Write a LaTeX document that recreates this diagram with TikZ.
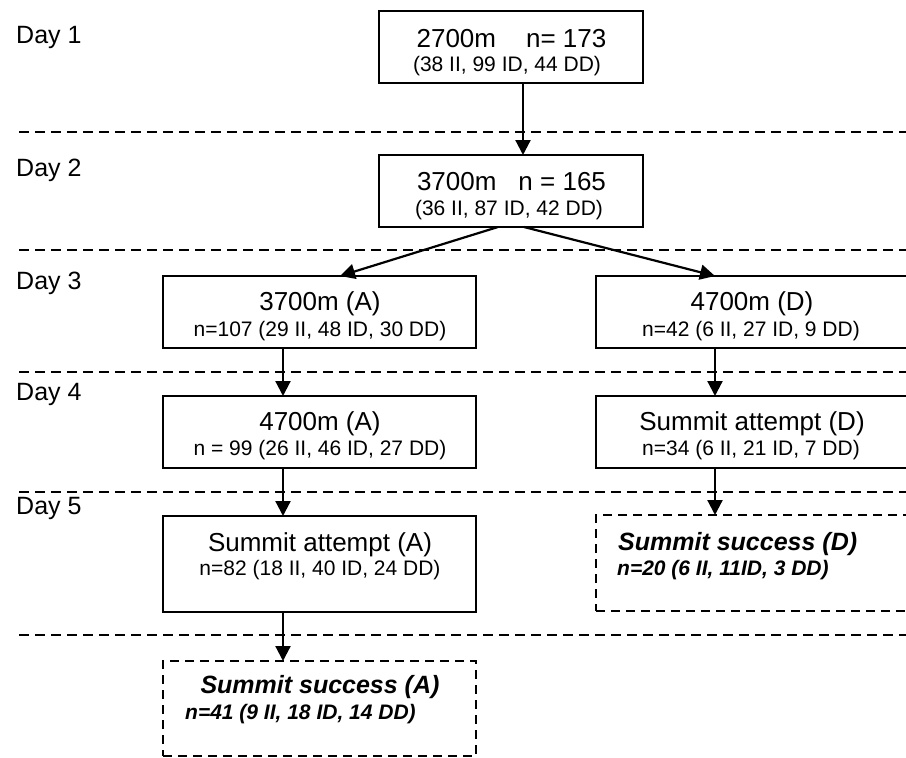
\documentclass[tikz,border=0pt]{standalone}
\usepackage{fontspec}
\setmainfont{Liberation Sans}
\usetikzlibrary{arrows.meta}
\begin{document}
\begin{tikzpicture}[x=1pt,y=-1pt,
  box/.style={draw, line width=1.9pt, inner sep=0pt, outer sep=0pt},
  dbox/.style={box, line width=1.7pt, dash pattern=on 9pt off 6pt},
  sepline/.style={line width=1.7pt, dash pattern=on 10pt off 6pt},
  arr/.style={line width=2.2pt, -{Triangle[length=15pt,width=15pt]}},
  big/.style={font=\fontsize{26}{30}\selectfont, inner sep=0pt, anchor=base},
  small/.style={font=\fontsize{21}{25}\selectfont, inner sep=0pt, anchor=base},
  bigbi/.style={font=\fontsize{25}{30}\selectfont\bfseries\itshape, inner sep=0pt},
  smallbi/.style={font=\fontsize{21}{25}\selectfont\bfseries\itshape, inner sep=0pt},
  day/.style={font=\fontsize{25}{30}\selectfont, inner sep=0pt, anchor=base west}]
\useasboundingbox (0,0) rectangle (906,758);
\clip (0,0) rectangle (906,758);
\fill[white] (0,0) rectangle (906,758);

% separator lines
\coordinate (s1l) at (19,132); \coordinate (s1r) at (906,132);
\coordinate (s2l) at (19,250); \coordinate (s2r) at (906,250);
\coordinate (s3l) at (19,372); \coordinate (s3r) at (906,372);
\coordinate (s4l) at (19,492); \coordinate (s4r) at (906,492);
\coordinate (s5l) at (19,635); \coordinate (s5r) at (906,635);
\draw[sepline] (s1l) -- (s1r);
\draw[sepline] (s2l) -- (s2r);
\draw[sepline] (s3l) -- (s3r);
\draw[sepline] (s4l) -- (s4r);
\draw[sepline] (s5l) -- (s5r);

% day labels
\node[day] (day1) at (16,43) {Day 1};
\node[day] (day2) at (16,176) {Day 2};
\node[day] (day3) at (16,289) {Day 3};
\node[day] (day4) at (16,400) {Day 4};
\node[day] (day5) at (16,514) {Day 5};

% boxes
\node[box, minimum width=264pt, minimum height=72pt] (d1) at (511,47) {};
\node[box, minimum width=264pt, minimum height=72pt] (d2) at (511,191) {};
\node[box, minimum width=313pt, minimum height=72pt] (a3) at (319.5,312) {};
\node[box, minimum width=320pt, minimum height=72pt] (d3) at (756,312) {};
\node[box, minimum width=313pt, minimum height=72pt] (a4) at (319.5,432) {};
\node[box, minimum width=320pt, minimum height=72pt] (d4) at (756,432) {};
\node[box, minimum width=313pt, minimum height=96pt] (a5) at (319.5,564) {};
\node[dbox, minimum width=320pt, minimum height=96pt] (d5) at (756,563) {};
\node[dbox, minimum width=313pt, minimum height=95pt] (a6) at (319.5,708.5) {};

% texts
\node[big] (t1a) at (511.5,47) {2700m\hspace{30pt}n= 173};
\node[small] (t1b) at (507,71) {(38 II, 99 ID, 44 DD)};
\node[big] (t2a) at (511.5,190) {3700m\hspace{22pt}n = 165};
\node[small] (t2b) at (509,215) {(36 II, 87 ID, 42 DD)};
\node[big] (t3a) at (320,310) {3700m (A)};
\node[small] (t3b) at (320,336) {n=107 (29 II, 48 ID, 30 DD)};
\node[big] (t3c) at (752,310) {4700m (D)};
\node[small] (t3d) at (751,336) {n=42 (6 II, 27 ID, 9 DD)};
\node[big] (t4a) at (320,430) {4700m (A)};
\node[small] (t4b) at (320,455) {n = 99 (26 II, 46 ID, 27 DD)};
\node[big] (t4c) at (752,430) {Summit attempt (D)};
\node[small] (t4d) at (751,455) {n=34 (6 II, 21 ID, 7 DD)};
\node[big] (t5a) at (320,551) {Summit attempt (A)};
\node[small] (t5b) at (320,575) {n=82 (18 II, 40 ID, 24 DD)};
\node[bigbi, anchor=base west] (t5c) at (618,550) {Summit success (D)};
\node[smallbi, anchor=base west] (t5d) at (617,575) {n=20 (6 II, 11ID, 3 DD)};
\node[bigbi, anchor=base] (t6a) at (320,693) {Summit success (A)};
\node[smallbi, anchor=base west] (t6b) at (185,719) {n=41 (9 II, 18 ID, 14 DD)};

% arrows
\draw[arr] ([xshift=12pt]d1.south) -- ([xshift=12pt]d2.north);
\draw[arr] ([xshift=-13pt]d2.south) -- ([xshift=20.5pt]a3.north);
\draw[arr] ([xshift=13pt]d2.south) -- ([xshift=-41pt]d3.north);
\draw[arr] ([xshift=-36.5pt]a3.south) -- ([xshift=-36.5pt]a4.north);
\draw[arr] ([xshift=-41pt]d3.south) -- ([xshift=-41pt]d4.north);
\draw[arr] ([xshift=-36.5pt]a4.south) -- ([xshift=-36.5pt]a5.north);
\draw[arr] ([xshift=-41pt]d4.south) -- ([xshift=-41pt]d5.north);
\draw[arr] ([xshift=-36.5pt]a5.south) -- ([xshift=-36.5pt]a6.north);
\end{tikzpicture}
\end{document}
